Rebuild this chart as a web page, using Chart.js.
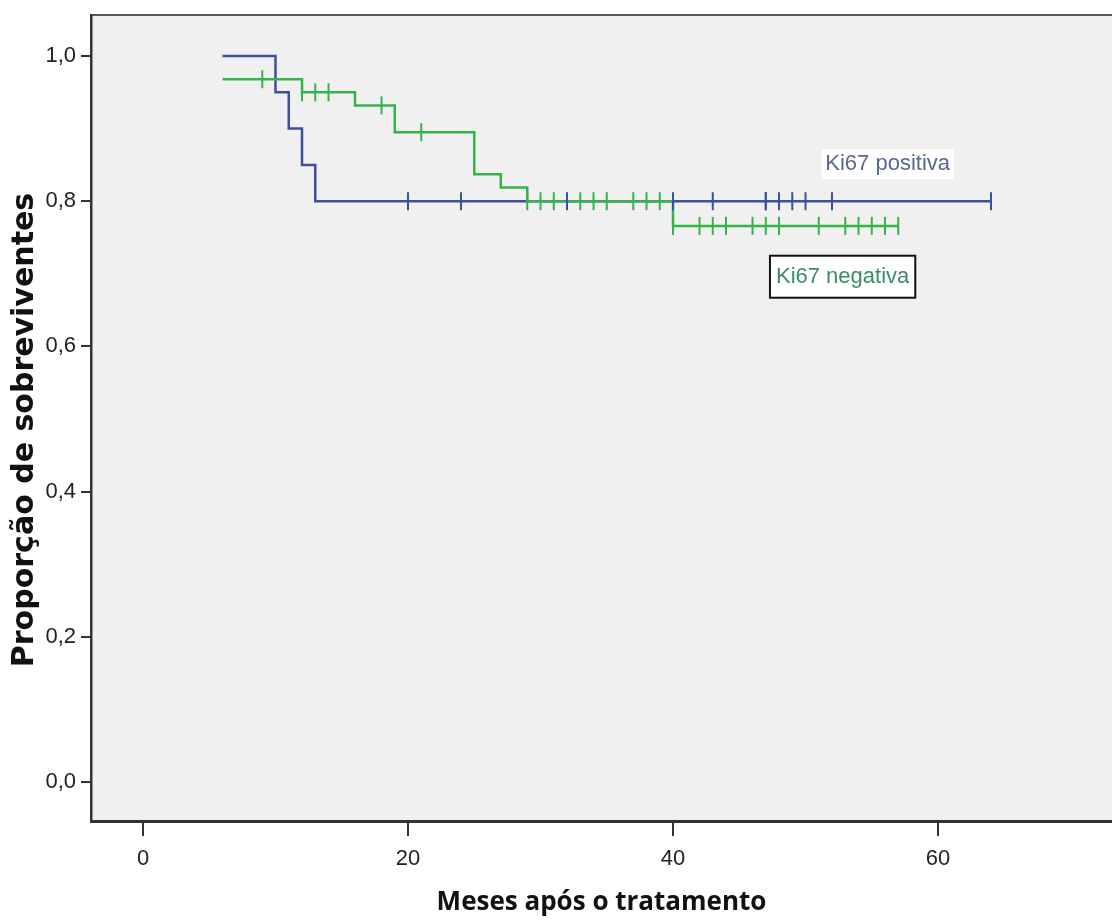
<!DOCTYPE html>
<html>
<head>
<meta charset="utf-8">
<script src="https://cdn.jsdelivr.net/npm/chart.js@4.4.1/dist/chart.umd.min.js"></script>
<style>
  html, body { margin: 0; padding: 0; background: #fff; overflow: hidden; }
  #wrap { width: 1112px; height: 921px; }
</style>
</head>
<body>
<div id="wrap"><canvas id="km" width="1112" height="921"></canvas></div>
<script>
// Kaplan-Meier curves: survival proportion by months after treatment.

// Ki67 positiva: step times and survival after each step
const posTimes = [6, 10, 11, 12, 13, 64];
const posSurv = [1.0, 0.95, 0.90, 0.85, 0.80, 0.80];
const posCensored = [20, 24, 32, 40, 43, 47, 47, 48, 49, 50, 52, 64];

// Ki67 negativa
const negTimes = [6, 12, 16, 19, 25, 27, 29, 40, 57];
const negSurv = [0.968, 0.950, 0.932, 0.895, 0.837, 0.819, 0.800, 0.766, 0.766];
const negCensored = [9, 12, 13, 14, 18, 21, 29, 30, 31, 33, 34, 35, 37, 38, 39,
  40, 42, 43, 44, 46, 47, 48, 48, 51, 53, 54, 55, 56, 57];

const xTicks = [0, 20, 40, 60];
const yTicks = [0.0, 0.2, 0.4, 0.6, 0.8, 1.0];

const COLORS = {
  pos: '#3E4F9E',
  neg: '#35B34A',
  axis: '#333333',
  plotBg: '#F0F0F0',
  posText: '#5A6790',
  negText: '#3C8C68',
};

const NARROW = "'Liberation Sans Narrow', 'Arial Narrow', 'Liberation Sans', sans-serif";

// survival value in effect at time t (value after the last step at or before t)
function survivalAt(times, surv, t) {
  let s = surv[0];
  for (let i = 0; i < times.length; i++) {
    if (times[i] <= t) s = surv[i];
  }
  return s;
}

const toPoints = (xs, ys) => xs.map((x, i) => ({ x, y: ys[i] }));
const censorPoints = (cens, times, surv) => cens.map(t => ({ x: t, y: survivalAt(times, surv, t) }));

// plot background + top frame line
const plotFrame = {
  id: 'plotFrame',
  beforeDraw(chart) {
    const { ctx, chartArea: a } = chart;
    ctx.save();
    ctx.fillStyle = COLORS.plotBg;
    ctx.fillRect(a.left, a.top, a.right - a.left, a.bottom - a.top);
    ctx.strokeStyle = '#555';
    ctx.lineWidth = 2;
    ctx.beginPath();
    ctx.moveTo(a.left, a.top);
    ctx.lineTo(a.right, a.top);
    ctx.stroke();
    ctx.restore();
  },
};

// y axis title, set a little below the chart-area centre as in the original
const yTitle = {
  id: 'yTitle',
  afterDraw(chart) {
    const { ctx, chartArea: a } = chart;
    ctx.save();
    ctx.translate(25, (a.top + a.bottom) / 2 + 12);
    ctx.rotate(-Math.PI / 2);
    ctx.font = "bold 30px 'DejaVu Sans', sans-serif";
    ctx.fillStyle = '#111';
    ctx.textAlign = 'center';
    ctx.textBaseline = 'middle';
    ctx.fillText('Proporção de sobreviventes', 0, 0);
    ctx.restore();
  },
};

// curve labels placed in data coordinates
const curveLabels = {
  id: 'curveLabels',
  afterDatasetsDraw(chart) {
    const { ctx, scales: { x, y } } = chart;
    ctx.save();
    ctx.font = '22px ' + NARROW;
    ctx.textAlign = 'center';
    ctx.textBaseline = 'middle';

    // Ki67 positiva: plain white backing
    let px = x.getPixelForValue(56.2), py = y.getPixelForValue(0.851);
    let w = ctx.measureText('Ki67 positiva').width;
    ctx.fillStyle = '#FFFFFF';
    ctx.fillRect(px - w / 2 - 4, py - 15, w + 8, 30);
    ctx.fillStyle = COLORS.posText;
    ctx.fillText('Ki67 positiva', px, py);

    // Ki67 negativa: boxed
    px = x.getPixelForValue(52.8); py = y.getPixelForValue(0.696);
    w = ctx.measureText('Ki67 negativa').width;
    ctx.fillStyle = '#FFFFFF';
    ctx.fillRect(px - w / 2 - 6, py - 21, w + 12, 42);
    ctx.strokeStyle = '#111';
    ctx.lineWidth = 2;
    ctx.strokeRect(px - w / 2 - 6, py - 21, w + 12, 42);
    ctx.fillStyle = COLORS.negText;
    ctx.fillText('Ki67 negativa', px, py);
    ctx.restore();
  },
};

const censorStyle = (color) => ({
  type: 'scatter',
  pointStyle: 'line',
  rotation: 90,
  pointRadius: 9,
  pointHoverRadius: 9,
  pointBorderWidth: 2,
  borderColor: color,
  backgroundColor: color,
  showLine: false,
});

new Chart(document.getElementById('km').getContext('2d'), {
  type: 'line',
  data: {
    datasets: [
      { label: 'neg censored', data: censorPoints(negCensored, negTimes, negSurv), ...censorStyle(COLORS.neg), order: 0 },
      { label: 'pos censored', data: censorPoints(posCensored, posTimes, posSurv), ...censorStyle(COLORS.pos), order: 1 },
      { label: 'Ki67 negativa', data: toPoints(negTimes, negSurv), borderColor: COLORS.neg, borderWidth: 2.5, stepped: 'before', pointRadius: 0, fill: false, order: 2 },
      { label: 'Ki67 positiva', data: toPoints(posTimes, posSurv), borderColor: COLORS.pos, borderWidth: 2.5, stepped: 'before', pointRadius: 0, fill: false, order: 3 },
    ],
  },
  options: {
    responsive: false,
    animation: false,
    devicePixelRatio: 1,
    layout: { autoPadding: false, padding: { top: 15, right: 0, bottom: 0, left: 0 } },
    plugins: { legend: { display: false }, tooltip: { enabled: false } },
    scales: {
      x: {
        type: 'linear',
        min: -3.925,
        max: 73.13,
        afterFit: (s) => { s.height = 100; s.paddingLeft = 0; s.paddingRight = 0; },
        afterBuildTicks: (s) => { s.ticks = xTicks.map(v => ({ value: v })); },
        ticks: { color: '#222', padding: 10, font: { family: NARROW, size: 22 }, callback: v => String(v) },
        grid: { drawOnChartArea: false, drawTicks: true, tickLength: 15, color: COLORS.axis, lineWidth: 2 },
        border: { display: true, color: COLORS.axis, width: 3 },
        title: { display: true, text: 'Meses após o tratamento', color: '#111', padding: { top: 0, bottom: 3 },
                 font: { family: "'Open Sans', sans-serif", size: 26, weight: 'bold' } },
      },
      y: {
        type: 'linear',
        min: -0.0537,
        max: 1.0565,
        afterFit: (s) => { s.width = 91; s.paddingTop = 0; s.paddingBottom = 0; },
        afterBuildTicks: (s) => { s.ticks = yTicks.map(v => ({ value: v })); },
        ticks: { color: '#222', padding: 5, font: { family: NARROW, size: 22 }, callback: v => v.toFixed(1).replace('.', ',') },
        grid: { drawOnChartArea: false, drawTicks: true, tickLength: 10, color: COLORS.axis, lineWidth: 2 },
        border: { display: true, color: COLORS.axis, width: 2.5 },
        title: { display: false },
      },
    },
  },
  plugins: [plotFrame, curveLabels, yTitle],
});
</script>
</body>
</html>
